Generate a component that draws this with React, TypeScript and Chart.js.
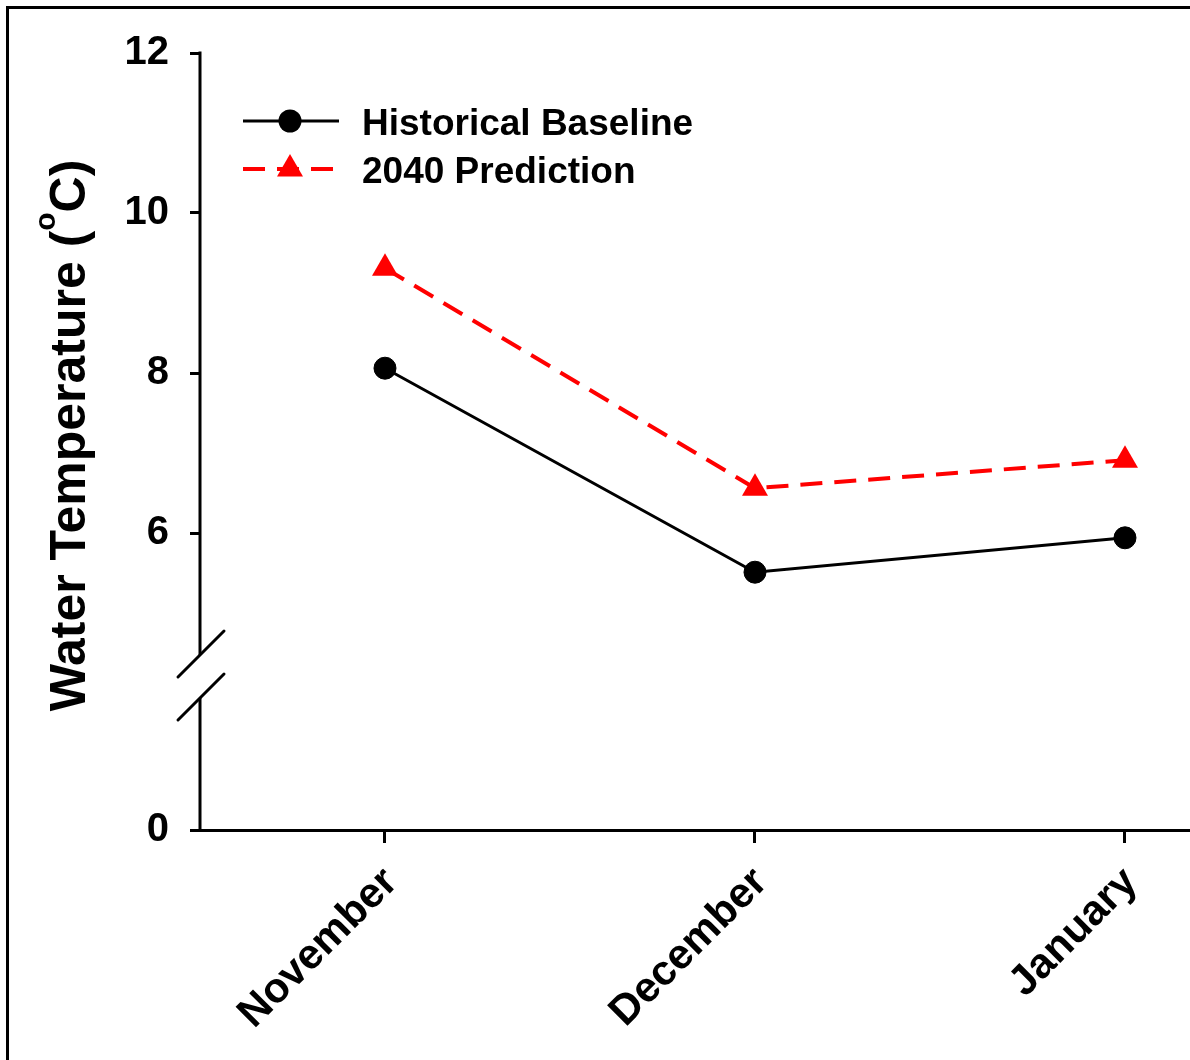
import React, { useEffect, useRef } from 'react';
import { Chart, registerables, LinearScale } from 'chart.js';

Chart.register(...registerables);

// ---- data ----
const MONTHS = ['November', 'December', 'January'];
const HISTORICAL_BASELINE = [8.06, 5.51, 5.94];
const PREDICTION_2040 = [9.31, 6.56, 6.91];
const SERIES_LABELS = ['Historical Baseline', '2040 Prediction'];
const Y_TICKS = [0, 6, 8, 10, 12];
const Y_TITLE_MAIN = 'Water Temperature (';
const Y_TITLE_SUP = 'o';
const Y_TITLE_END = 'C)';

// ---- broken axis definition (value units) ----
const Y_MAX = 12;
const BREAK_LOW = 1.65; // top of the lower segment
const BREAK_HIGH = 4.475; // bottom of the upper segment
const BREAK_GAP = 0.5375; // visual gap between the segments

const FONT = 'Arial, "Liberation Sans", Helvetica, sans-serif';

function toVirtual(v: number) {
  return v >= BREAK_HIGH ? v - BREAK_HIGH + BREAK_LOW + BREAK_GAP : Math.min(v, BREAK_LOW);
}

class BrokenLinearScale extends LinearScale {
  static id = 'brokenLinear';
  getPixelForValue(value: number) {
    if (value === null || value === undefined) return NaN;
    const total = toVirtual(this.max);
    return this.getPixelForDecimal(toVirtual(value) / total);
  }
  getValueForPixel(pixel: number) {
    const total = toVirtual(this.max);
    const d = this.getDecimalForPixel(pixel) * total;
    if (d <= BREAK_LOW) return d;
    if (d >= BREAK_LOW + BREAK_GAP) return d - BREAK_LOW - BREAK_GAP + BREAK_HIGH;
    return BREAK_LOW;
  }
}
Chart.register(BrokenLinearScale as any);

const decorPlugin = {
  id: 'decor',
  afterDraw(chart: any) {
    const { ctx, chartArea, scales } = chart;
    const y = scales.y;
    ctx.save();

    // outer frame (top and left visible)
    ctx.fillStyle = '#000';
    ctx.fillRect(6, 6, chart.width - 6, 3);
    ctx.fillRect(6, 6, 3, chart.height - 6);

    // broken y axis line
    const left = chartArea.left;
    const pHigh = y.getPixelForValue(BREAK_HIGH);
    const pLow = y.getPixelForValue(BREAK_LOW);
    ctx.strokeStyle = '#000';
    ctx.lineWidth = 3;
    ctx.lineCap = 'butt';
    ctx.setLineDash([]);
    ctx.beginPath();
    ctx.moveTo(left, y.getPixelForValue(Y_MAX) - 1.5);
    ctx.lineTo(left, pHigh);
    ctx.moveTo(left, pLow);
    ctx.lineTo(left, chartArea.bottom);
    ctx.stroke();
    ctx.lineCap = 'round';
    ctx.beginPath();
    for (const p of [pHigh, pLow]) {
      ctx.moveTo(left - 22, p + 22);
      ctx.lineTo(left + 24, p - 24);
    }
    ctx.stroke();

    // y axis title with superscript
    ctx.save();
    ctx.translate(85, (chartArea.top + chartArea.bottom) / 2 - 6);
    ctx.rotate(-Math.PI / 2);
    ctx.fillStyle = '#000';
    ctx.textBaseline = 'alphabetic';
    ctx.textAlign = 'left';
    const mainFont = `bold 50px ${FONT}`;
    const supFont = `bold 30px ${FONT}`;
    ctx.font = mainFont;
    const w1 = ctx.measureText(Y_TITLE_MAIN).width;
    const w3 = ctx.measureText(Y_TITLE_END).width;
    ctx.font = supFont;
    const w2 = ctx.measureText(Y_TITLE_SUP).width;
    let tx = -(w1 + w2 + w3) / 2;
    ctx.font = mainFont;
    ctx.fillText(Y_TITLE_MAIN, tx, 0);
    tx += w1;
    ctx.font = supFont;
    ctx.fillText(Y_TITLE_SUP, tx, -30);
    tx += w2;
    ctx.font = mainFont;
    ctx.fillText(Y_TITLE_END, tx, 0);
    ctx.restore();

    // legend
    const rowsY = [121, 169];
    chart.data.datasets.forEach((ds: any, i: number) => {
      const ly = rowsY[i];
      ctx.strokeStyle = ds.borderColor;
      ctx.lineWidth = ds.borderWidth;
      ctx.lineCap = 'butt';
      ctx.setLineDash(ds.borderDash || []);
      ctx.beginPath();
      ctx.moveTo(243, ly);
      ctx.lineTo(339, ly);
      ctx.stroke();
      ctx.setLineDash([]);
      const cx = 290;
      const r = ds.pointRadius;
      ctx.fillStyle = ds.pointBackgroundColor;
      ctx.beginPath();
      if (ds.pointStyle === 'triangle') {
        ctx.moveTo(cx, ly - r);
        ctx.lineTo(cx + r * Math.sin((2 * Math.PI) / 3), ly - r * Math.cos((2 * Math.PI) / 3));
        ctx.lineTo(cx + r * Math.sin((4 * Math.PI) / 3), ly - r * Math.cos((4 * Math.PI) / 3));
        ctx.closePath();
      } else {
        ctx.arc(cx, ly, r + 0.5, 0, Math.PI * 2);
      }
      ctx.fill();
      ctx.fillStyle = '#000';
      ctx.font = `bold 37px ${FONT}`;
      ctx.textAlign = 'left';
      ctx.textBaseline = 'alphabetic';
      ctx.fillText(ds.label, 362, ly + 13.5);
    });

    ctx.restore();
  },
};

export default function App() {
  const canvasRef = useRef<HTMLCanvasElement | null>(null);

  useEffect(() => {
    const canvas = canvasRef.current;
    if (!canvas) return;
    const chart = new Chart(canvas, {
      type: 'line',
      data: {
        datasets: [
          {
            label: SERIES_LABELS[0],
            data: HISTORICAL_BASELINE.map((v, i) => ({ x: i, y: v })),
            borderColor: '#000000',
            backgroundColor: '#000000',
            borderWidth: 3,
            pointStyle: 'circle',
            pointRadius: 11,
            pointBackgroundColor: '#000000',
            pointBorderColor: '#000000',
            pointBorderWidth: 1,
            tension: 0,
          },
          {
            label: SERIES_LABELS[1],
            data: PREDICTION_2040.map((v, i) => ({ x: i, y: v })),
            borderColor: '#ff0000',
            backgroundColor: '#ff0000',
            borderWidth: 4,
            borderDash: [22, 12],
            pointStyle: 'triangle',
            pointRadius: 15,
            pointBackgroundColor: '#ff0000',
            pointBorderColor: '#ff0000',
            pointBorderWidth: 0,
            tension: 0,
          },
        ] as any,
      },
      options: {
        responsive: false,
        animation: false,
        layout: { autoPadding: false, padding: { top: 53, left: 0, right: 0, bottom: 0 } },
        plugins: {
          legend: { display: false },
          tooltip: { enabled: false },
          title: { display: false },
        },
        scales: {
          x: {
            type: 'linear',
            min: -0.5,
            max: 2.1757,
            afterBuildTicks: (s: any) => {
              s.ticks = MONTHS.map((_, i) => ({ value: i }));
            },
            afterFit: (s: any) => {
              s.height = 230;
              s.paddingLeft = 0;
              s.paddingRight = 0;
            },
            ticks: {
              autoSkip: false,
              minRotation: 45,
              maxRotation: 45,
              padding: 15,
              labelOffset: 6,
              color: '#000',
              font: { family: FONT, size: 42, weight: 'bold' },
              callback: (v: any) => MONTHS[v] ?? '',
            },
            grid: {
              drawOnChartArea: false,
              drawTicks: true,
              tickLength: 13,
              lineWidth: 3,
              color: '#000',
            },
            border: { display: true, color: '#000', width: 3 },
          },
          y: {
            type: 'brokenLinear' as any,
            position: 'left',
            min: 0,
            max: Y_MAX,
            afterBuildTicks: (s: any) => {
              s.ticks = Y_TICKS.map((v) => ({ value: v }));
            },
            afterFit: (s: any) => {
              s.width = 200;
              s.paddingTop = 0;
              s.paddingBottom = 0;
            },
            ticks: {
              padding: 21,
              color: '#000',
              font: { family: FONT, size: 40, weight: 'bold' },
              callback: (v: any) => String(v),
            },
            grid: {
              drawOnChartArea: false,
              drawTicks: true,
              tickLength: 10,
              lineWidth: 3,
              color: '#000',
            },
            border: { display: false },
          },
        } as any,
      },
      plugins: [decorPlugin],
    });
    return () => chart.destroy();
  }, []);

  return (
    <div style={{ position: 'absolute', left: 0, top: 0, width: 1190, height: 1060, background: '#fff' }}>
      <canvas ref={canvasRef} width={1190} height={1060} />
    </div>
  );
}
